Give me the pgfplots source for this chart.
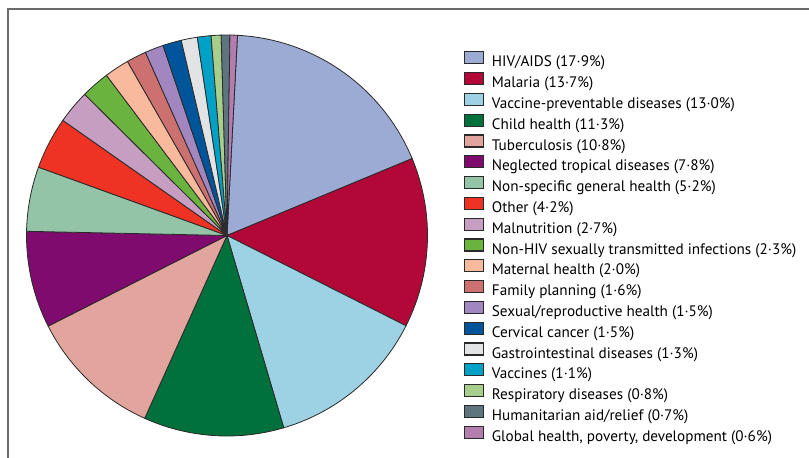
\documentclass[border=0pt]{standalone}
\usepackage{fontspec}
\setmainfont{PT Sans}
\usepackage{pgfplots}
\pgfplotsset{compat=1.18}
\definecolor{c1}{HTML}{9BABD4}
\definecolor{c2}{HTML}{B20838}
\definecolor{c3}{HTML}{9DD2E4}
\definecolor{c4}{HTML}{00703C}
\definecolor{c5}{HTML}{E2A59E}
\definecolor{c6}{HTML}{800B6E}
\definecolor{c7}{HTML}{93C4A8}
\definecolor{c8}{HTML}{EE3224}
\definecolor{c9}{HTML}{C69EC2}
\definecolor{c10}{HTML}{6BB33F}
\definecolor{c11}{HTML}{F9B99D}
\definecolor{c12}{HTML}{CC7070}
\definecolor{c13}{HTML}{A286C0}
\definecolor{c14}{HTML}{00549A}
\definecolor{c15}{HTML}{E2E3E5}
\definecolor{c16}{HTML}{00A1C6}
\definecolor{c17}{HTML}{A7CF8B}
\definecolor{c18}{HTML}{5E7580}
\definecolor{c19}{HTML}{B37DAE}
\definecolor{edge}{HTML}{2A2A2A}
\definecolor{framec}{HTML}{6A6A6A}
\begin{document}
\begin{tikzpicture}
\useasboundingbox (0bp,0bp) rectangle (809bp,458bp);
\draw[line width=1.5bp, framec] (8bp,0bp) -- (8bp,449bp) -- (809bp,449bp);
\begin{axis}[
  at={(227bp,222.5bp)}, anchor=center,
  scale only axis, width=401bp, height=401bp,
  xmin=-1, xmax=1, ymin=-1, ymax=1,
  axis lines=none, ticks=none, clip=false,
  legend image code/.code={\draw[#1, draw=edge, line width=1.2bp] (0bp,-1bp) rectangle (19bp,11bp);},
  legend style={at={(axis description cs:1.091,0.9601)}, anchor=north west,
    draw=none, fill=none, inner sep=0pt,
    font=\fontsize{15.2bp}{17bp}\selectfont,
    nodes={inner sep=0pt, text height=11bp, text depth=3bp},
    cells={anchor=west}, row sep=2.2bp,
    /tikz/every odd column/.append style={column sep=7.5bp}},
  every axis plot/.append style={draw=edge, line width=0.8bp, variable=\t, samples=40},
]
\addplot[fill=c1, domain=3:67.44] ({sin(\t)},{cos(\t)}) -- (axis cs:0,0) -- cycle;
\addlegendentry{HIV/AIDS (17·9\%)}
\addplot[fill=c2, domain=67.44:116.76] ({sin(\t)},{cos(\t)}) -- (axis cs:0,0) -- cycle;
\addlegendentry{Malaria (13·7\%)}
\addplot[fill=c3, domain=116.76:163.56] ({sin(\t)},{cos(\t)}) -- (axis cs:0,0) -- cycle;
\addlegendentry{Vaccine-preventable diseases (13·0\%)}
\addplot[fill=c4, domain=163.56:204.24] ({sin(\t)},{cos(\t)}) -- (axis cs:0,0) -- cycle;
\addlegendentry{Child health (11·3\%)}
\addplot[fill=c5, domain=204.24:243.12] ({sin(\t)},{cos(\t)}) -- (axis cs:0,0) -- cycle;
\addlegendentry{Tuberculosis (10·8\%)}
\addplot[fill=c6, domain=243.12:271.2] ({sin(\t)},{cos(\t)}) -- (axis cs:0,0) -- cycle;
\addlegendentry{Neglected tropical diseases (7·8\%)}
\addplot[fill=c7, domain=271.2:289.92] ({sin(\t)},{cos(\t)}) -- (axis cs:0,0) -- cycle;
\addlegendentry{Non-specific general health (5·2\%)}
\addplot[fill=c8, domain=289.92:305.04] ({sin(\t)},{cos(\t)}) -- (axis cs:0,0) -- cycle;
\addlegendentry{Other (4·2\%)}
\addplot[fill=c9, domain=305.04:314.76] ({sin(\t)},{cos(\t)}) -- (axis cs:0,0) -- cycle;
\addlegendentry{Malnutrition (2·7\%)}
\addplot[fill=c10, domain=314.76:323.04] ({sin(\t)},{cos(\t)}) -- (axis cs:0,0) -- cycle;
\addlegendentry{Non-HIV sexually transmitted infections (2·3\%)}
\addplot[fill=c11, domain=323.04:330.24] ({sin(\t)},{cos(\t)}) -- (axis cs:0,0) -- cycle;
\addlegendentry{Maternal health (2·0\%)}
\addplot[fill=c12, domain=330.24:336] ({sin(\t)},{cos(\t)}) -- (axis cs:0,0) -- cycle;
\addlegendentry{Family planning (1·6\%)}
\addplot[fill=c13, domain=336:341.4] ({sin(\t)},{cos(\t)}) -- (axis cs:0,0) -- cycle;
\addlegendentry{Sexual/reproductive health (1·5\%)}
\addplot[fill=c14, domain=341.4:346.8] ({sin(\t)},{cos(\t)}) -- (axis cs:0,0) -- cycle;
\addlegendentry{Cervical cancer (1·5\%)}
\addplot[fill=c15, domain=346.8:351.48] ({sin(\t)},{cos(\t)}) -- (axis cs:0,0) -- cycle;
\addlegendentry{Gastrointestinal diseases (1·3\%)}
\addplot[fill=c16, domain=351.48:355.44] ({sin(\t)},{cos(\t)}) -- (axis cs:0,0) -- cycle;
\addlegendentry{Vaccines (1·1\%)}
\addplot[fill=c17, domain=355.44:358.32] ({sin(\t)},{cos(\t)}) -- (axis cs:0,0) -- cycle;
\addlegendentry{Respiratory diseases (0·8\%)}
\addplot[fill=c18, domain=358.32:360.84] ({sin(\t)},{cos(\t)}) -- (axis cs:0,0) -- cycle;
\addlegendentry{Humanitarian aid/relief (0·7\%)}
\addplot[fill=c19, domain=360.84:363] ({sin(\t)},{cos(\t)}) -- (axis cs:0,0) -- cycle;
\addlegendentry{Global health, poverty, development (0·6\%)}
\end{axis}
\end{tikzpicture}
\end{document}
